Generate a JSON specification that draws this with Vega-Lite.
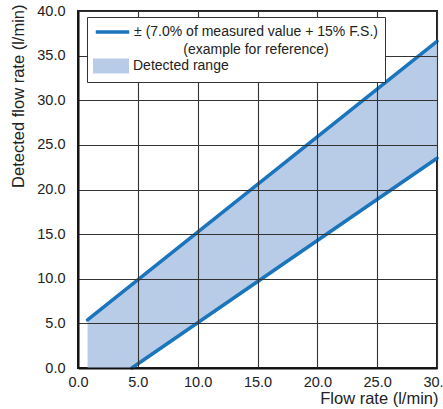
{
  "$schema": "https://vega.github.io/schema/vega-lite/v6.json",
  "width": 359,
  "height": 357,
  "autosize": {"type": "none"},
  "padding": {"left": 78, "top": 11, "right": 6, "bottom": 41},
  "background": "white",
  "config": {
    "font": "Liberation Sans",
    "view": {"stroke": "#222", "strokeWidth": 2}
  },
  "datasets": {
    "band": [
      {"x": 0.8, "lo": 0, "hi": 5.4, "series": "Detected range"},
      {"x": 4.5, "lo": 0, "hi": 9.35, "series": "Detected range"},
      {"x": 30, "lo": 23.5, "hi": 36.6, "series": "Detected range"}
    ],
    "lines": [
      {"x": 0.8, "y": 5.4, "edge": "upper", "series": "± (7.0% of measured value + 15% F.S.)"},
      {"x": 30, "y": 36.6, "edge": "upper", "series": "± (7.0% of measured value + 15% F.S.)"},
      {"x": 4.5, "y": 0, "edge": "lower", "series": "± (7.0% of measured value + 15% F.S.)"},
      {"x": 30, "y": 23.5, "edge": "lower", "series": "± (7.0% of measured value + 15% F.S.)"}
    ]
  },
  "layer": [
    {
      "data": {"name": "band"},
      "mark": {"type": "area", "opacity": 1},
      "encoding": {
        "x": {
          "field": "x", "type": "quantitative",
          "scale": {"domain": [0, 30], "nice": false},
          "axis": {
            "title": "Flow rate (l/min)",
            "values": [0, 5, 10, 15, 20, 25, 30],
            "format": ".1f",
            "grid": true, "gridColor": "#333", "gridWidth": 1.1, "gridOpacity": 1,
            "ticks": false,
            "domainColor": "#111", "domainWidth": 2,
            "labelFontSize": 14.5, "labelColor": "#222", "labelPadding": 7.5,
            "labelFlush": false, "labelOverlap": false,
            "titleFontSize": 16.5, "titleFontWeight": "normal", "titleColor": "#222",
            "titleAlign": "right", "titleAnchor": "end", "titleX": 360, "titleY": 35,
            "titleBaseline": "alphabetic",
            "zindex": 1
          }
        },
        "y": {
          "field": "lo", "type": "quantitative",
          "scale": {"domain": [0, 40], "nice": false},
          "axis": {
            "title": "Detected flow rate (l/min)",
            "values": [0, 5, 10, 15, 20, 25, 30, 35, 40],
            "format": ".1f",
            "grid": true, "gridColor": "#333", "gridWidth": 1.1, "gridOpacity": 1,
            "ticks": false,
            "domainColor": "#111", "domainWidth": 2,
            "labelFontSize": 14.5, "labelColor": "#222", "labelPadding": 13,
            "labelFlush": false, "labelOverlap": false,
            "titleFontSize": 16.5, "titleFontWeight": "normal", "titleColor": "#222",
            "titleAngle": -90, "titleAlign": "right", "titleX": -54.5, "titleY": -7,
            "titleBaseline": "alphabetic",
            "zindex": 1
          }
        },
        "y2": {"field": "hi"},
        "fill": {
          "field": "series", "type": "nominal",
          "scale": {"domain": ["Detected range"], "range": ["#b8cce8"]},
          "legend": {
            "title": null,
            "orient": "none", "legendX": 9, "legendY": 40,
            "zindex": 3,
            "padding": 7,
            "labelFontSize": 14, "labelColor": "#222", "labelLimit": 400,
            "symbolType": "M-1.5,-1.25H4.5V1.25H-1.5Z",
            "symbolSize": 144, "symbolStrokeWidth": 3.5, "symbolStrokeColor": "transparent",
            "symbolOpacity": 1,
            "labelOffset": 23, "rowPadding": 3
          }
        }
      }
    },
    {
      "data": {"name": "lines"},
      "mark": {"type": "line", "strokeWidth": 3.5, "strokeCap": "round"},
      "encoding": {
        "x": {"field": "x", "type": "quantitative"},
        "y": {"field": "y", "type": "quantitative"},
        "detail": {"field": "edge"},
        "stroke": {
          "field": "series", "type": "nominal",
          "scale": {
            "domain": ["± (7.0% of measured value + 15% F.S.)", "(example for reference)", "Detected range "],
            "range": ["#1b75bc", "transparent", "transparent"]
          },
          "legend": {
            "title": null,
            "orient": "none", "legendX": 9, "legendY": 6,
            "zindex": 2,
            "fillColor": "white", "strokeColor": "#333",
            "padding": 7,
            "labelFontSize": 14, "labelColor": "#222", "labelLimit": 400,
            "labelAlign": "center",
            "labelExpr": "datum.value === 'Detected range ' ? '' : datum.label",
            "symbolType": "M-1.04,0H4.54",
            "symbolSize": 144, "symbolStrokeWidth": 3.5,
            "labelOffset": 146, "rowPadding": 3
          }
        }
      }
    }
  ]
}
